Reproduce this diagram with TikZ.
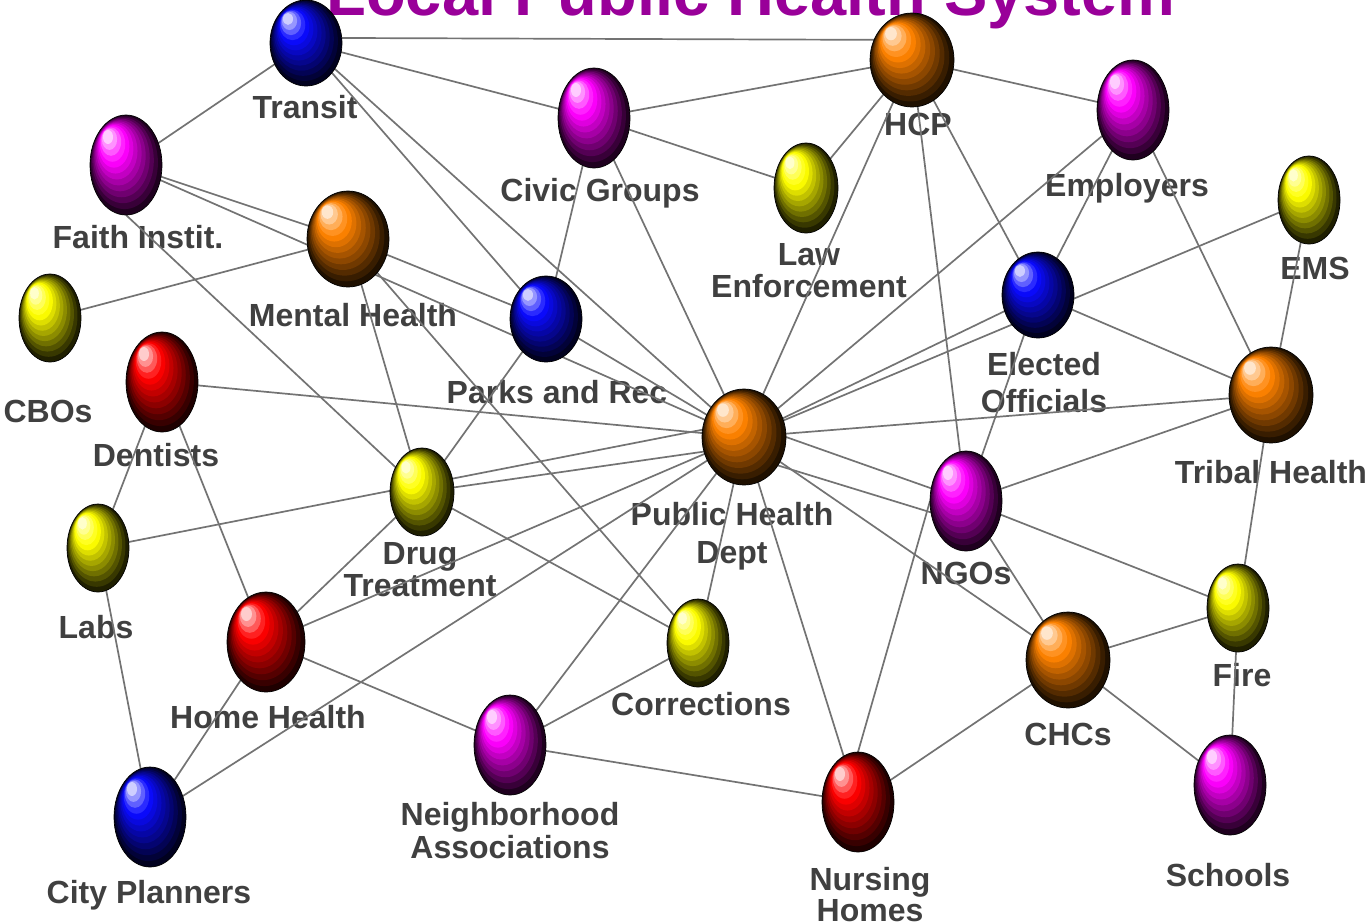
\documentclass[tikz,border=0pt]{standalone}
\usepackage{fontspec}
\setmainfont{Liberation Sans}
\usepackage{tikz}
\usetikzlibrary{shapes.geometric,calc}

\pgfdeclarelayer{behind}
\pgfdeclarelayer{lines}
\pgfsetlayers{behind,lines,main}

\definecolor{lhsgray}{RGB}{64,64,64}
\definecolor{lhslink}{RGB}{115,115,115}
\definecolor{lhspurple}{RGB}{153,0,153}
\definecolor{ballblue}{RGB}{10,10,255}
\definecolor{ballorange}{RGB}{255,130,0}
\definecolor{ballyellow}{RGB}{255,255,0}
\definecolor{ballmagenta}{RGB}{255,0,255}
\definecolor{ballred}{RGB}{255,0,0}

% glossy ball: name, x, y, x radius, y radius, colour
\newcommand{\placeball}[6]{%
  \node[ballspot, minimum width=#4*2pt, minimum height=#5*2pt] (#1) at (#2,#3) {};
  \foreach \k in {0,...,12}{%
    \pgfmathsetmacro{\bt}{\k/12}%
    \pgfmathtruncatemacro{\dk}{min(100,12+88*\bt/0.68)}%
    \pgfmathtruncatemacro{\wt}{max(0,(\bt-0.7)/0.3*80)}%
    \colorlet{ballshade}{#6!\dk!black}%
    \colorlet{ballshade}{white!\wt!ballshade}%
    \fill[ballshade] ($(#1)+(-0.5*\bt*#4,-0.56*\bt*#5)$)
      ellipse [x radius={(1-0.86*\bt)*#4pt}, y radius={(1-0.86*\bt)*#5pt}];
  }%
  \draw[black, line width=0.7pt] (#1) ellipse [x radius=#4pt, y radius=#5pt];
}

\begin{document}
\begin{tikzpicture}[x=1pt, y=-1pt,
    ballspot/.style={ellipse, inner sep=0pt, outer sep=0pt},
    lhs label/.style={font=\fontsize{32}{33}\selectfont\bfseries, text=lhsgray,
      align=center, inner sep=0pt, anchor=north},
    lhs link/.style={draw=lhslink, line width=1.7pt},
    lhs title/.style={font=\fontsize{65}{70}\selectfont\bfseries, text=lhspurple,
      inner sep=0pt, anchor=base}]

    \useasboundingbox (0,0) rectangle (1370,922);

    \node[lhs title] (title) at (751,15) {Local Public Health System};

    % balls
    \placeball{transit}{306}{43}{36}{43}{ballblue}
    \placeball{hcp}{912}{60}{42}{47}{ballorange}
    \placeball{employers}{1133}{110}{36}{50}{ballmagenta}
    \placeball{civic}{594}{118}{36}{50}{ballmagenta}
    \placeball{faith}{126}{165}{36}{50}{ballmagenta}
    \placeball{law}{806}{188}{32}{45}{ballyellow}
    \placeball{ems}{1309}{200}{31}{44}{ballyellow}
    \placeball{mental}{348}{239}{41}{48}{ballorange}
    \placeball{elected}{1038}{295}{36}{43}{ballblue}
    \placeball{parks}{546}{319}{36}{43}{ballblue}
    \placeball{cbos}{50}{318}{31}{44}{ballyellow}
    \placeball{dentists}{162}{382}{36}{50}{ballred}
    \placeball{phd}{744}{437}{42}{48}{ballorange}
    \placeball{tribal}{1271}{395}{42}{48}{ballorange}
    \placeball{ngos}{966}{501}{36}{50}{ballmagenta}
    \placeball{drug}{422}{492}{32}{44}{ballyellow}
    \placeball{labs}{98}{548}{31}{44}{ballyellow}
    \placeball{fire}{1238}{608}{31}{44}{ballyellow}
    \placeball{homehealth}{266}{642}{39}{50}{ballred}
    \placeball{corrections}{698}{643}{31}{44}{ballyellow}
    \placeball{chcs}{1068}{660}{42}{48}{ballorange}
    \placeball{neighbor}{510}{745}{36}{50}{ballmagenta}
    \placeball{schools}{1230}{785}{36}{50}{ballmagenta}
    \placeball{nursing}{858}{802}{36}{50}{ballred}
    \placeball{planners}{150}{817}{36}{50}{ballblue}

    % labels
    \begin{pgfonlayer}{behind}
    \node[lhs label] (transit label) at (305,95) {Transit};
    \node[lhs label] (hcp label) at (918,113) {HCP};
    \node[lhs label] (employers label) at (1127,173) {Employers};
    \node[lhs label] (ems label) at (1315,257) {EMS};
    \node[lhs label] (civic label) at (600,178) {Civic Groups};
    \node[lhs label] (law label) at (809,243) {Law\\[-1pt]Enforcement};
    \node[lhs label] (faith label) at (138,225) {Faith Instit.};
    \node[lhs label] (mental label) at (353,303) {Mental Health};
    \node[lhs label] (cbos label) at (48,400) {CBOs};
    \node[lhs label] (parks label) at (557,380) {Parks and Rec};
    \node[lhs label] (elected label) at (1044,352) {Elected\\[4pt]Officials};
    \node[lhs label] (tribal label) at (1271,460) {Tribal Health};
    \node[lhs label] (dentists label) at (156,443) {Dentists};
    \node[lhs label] (labs label) at (96,615) {Labs};
    \node[lhs label] (homehealth label) at (268,705) {Home Health};
    \node[lhs label] (planners label) at (149,880) {City Planners};
    \node[lhs label] (drug label) at (420,542) {Drug\\[-1pt]Treatment};
    \node[lhs label] (phd label) at (732,502) {Public Health\\[5pt]Dept};
    \node[lhs label] (corrections label) at (701,692) {Corrections};
    \node[lhs label] (neighbor label) at (510,802) {Neighborhood\\Associations};
    \node[lhs label] (nursing label) at (870,867) {Nursing\\[-2pt]Homes};
    \node[lhs label] (ngos label) at (966,562) {NGOs};
    \node[lhs label] (chcs label) at (1068,723) {CHCs};
    \node[lhs label] (fire label) at (1242,663) {Fire};
    \node[lhs label] (schools label) at (1228,863) {Schools};
    \end{pgfonlayer}

    % links
    \begin{pgfonlayer}{lines}
    \draw[lhs link] (transit) -- (faith);
    \draw[lhs link] (transit.8) -- (hcp.152);
    \draw[lhs link] (transit) -- (civic);
    \draw[lhs link] (transit) -- (parks);
    \draw[lhs link] (transit) -- (phd);
    \draw[lhs link] (civic) -- (hcp);
    \draw[lhs link] (civic) -- (law);
    \draw[lhs link] (civic) -- (parks);
    \draw[lhs link] (civic) -- (phd);
    \draw[lhs link] (hcp) -- (employers);
    \draw[lhs link] (hcp) -- (law);
    \draw[lhs link] (hcp) -- (phd);
    \draw[lhs link] (hcp) -- (elected);
    \draw[lhs link] (hcp) -- (ngos);
    \draw[lhs link] (employers) -- (elected);
    \draw[lhs link] (employers) -- (phd);
    \draw[lhs link] (employers) -- (tribal);
    \draw[lhs link] (ems) -- (tribal);
    \draw[lhs link] (ems) -- (phd);
    \draw[lhs link] (elected) -- (phd);
    \draw[lhs link] (elected) -- (ngos);
    \draw[lhs link] (elected) -- (tribal);
    \draw[lhs link] (faith) -- (mental);
    \draw[lhs link] (faith) -- (phd);
    \draw[lhs link] (faith.south) -- (drug);
    \draw[lhs link] (cbos) -- (mental);
    \draw[lhs link] (mental) -- (parks);
    \draw[lhs link] (mental) -- (drug);
    \draw[lhs link] (mental) -- (corrections);
    \draw[lhs link] (parks) -- (drug);
    \draw[lhs link] (parks) -- (phd);
    \draw[lhs link] (dentists) -- (phd);
    \draw[lhs link] (dentists) -- (labs);
    \draw[lhs link] (dentists) -- (homehealth);
    \draw[lhs link] (phd) -- (tribal);
    \draw[lhs link] (phd.east) -- (ngos.160);
    \draw[lhs link] (phd.-40) -- (ngos.198);
    \draw[lhs link] (phd) -- (chcs);
    \draw[lhs link] (phd) -- (nursing);
    \draw[lhs link] (phd) -- (corrections);
    \draw[lhs link] (phd) -- (neighbor);
    \draw[lhs link] (phd) -- (planners);
    \draw[lhs link] (phd) -- (homehealth);
    \draw[lhs link] (drug) -- (phd.200);
    \draw[lhs link] (labs) -- (phd.170);
    \draw[lhs link] (tribal) -- (ngos);
    \draw[lhs link] (tribal) -- (fire);
    \draw[lhs link] (ngos) -- (fire);
    \draw[lhs link] (ngos) -- (chcs);
    \draw[lhs link] (nursing.north) -- (ngos.west);
    \draw[lhs link] (drug) -- (homehealth);
    \draw[lhs link] (drug) -- (corrections);
    \draw[lhs link] (labs) -- (planners);
    \draw[lhs link] (homehealth) -- (planners);
    \draw[lhs link] (homehealth) -- (neighbor);
    \draw[lhs link] (corrections) -- (neighbor);
    \draw[lhs link] (neighbor) -- (nursing);
    \draw[lhs link] (nursing) -- (chcs);
    \draw[lhs link] (chcs) -- (fire);
    \draw[lhs link] (chcs) -- (schools);
    \draw[lhs link] (fire) -- (schools);
    \end{pgfonlayer}

\end{tikzpicture}
\end{document}
